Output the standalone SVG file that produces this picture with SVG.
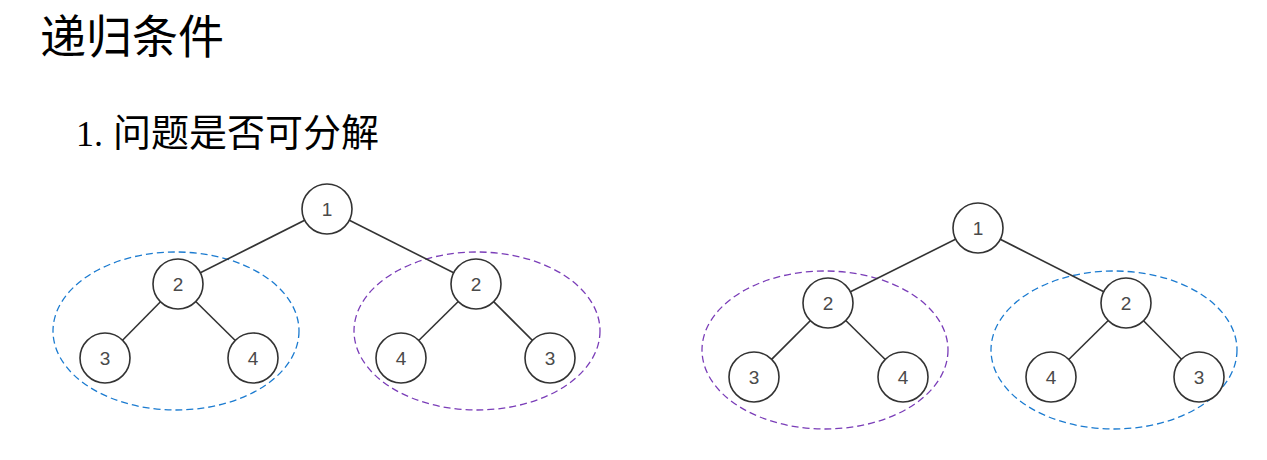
<svg xmlns="http://www.w3.org/2000/svg" width="1267" height="460" viewBox="0 0 1267 460">
<style>
.title{font-family:"Noto Sans CJK SC","Liberation Sans",sans-serif;fill:#000}
.num{font-family:"Liberation Serif",serif;fill:#000}
.node circle{fill:#fff;stroke:#333;stroke-width:1.6}
.node text{font-family:"Liberation Sans",Arial,sans-serif;font-size:19px;fill:#4a4a4a;text-anchor:middle;dominant-baseline:central}
.edges line{stroke:#333;stroke-width:1.6}
.blue{fill:none;stroke:#1b7bd0;stroke-width:1.3;stroke-dasharray:7 4}
.purple{fill:none;stroke:#7a3db8;stroke-width:1.3;stroke-dasharray:7 4}
</style>
<rect width="1267" height="460" fill="#fff"/>
<text class="title" x="40" y="53" font-size="46">递归条件</text>
<text class="num" x="76" y="146" font-size="36">1.</text>
<text class="title" x="113" y="146" font-size="38">问题是否可分解</text>
<g id="groups">
<ellipse class="blue" cx="176" cy="331" rx="123" ry="79"/>
<ellipse class="purple" cx="477" cy="331" rx="123" ry="79"/>
<ellipse class="purple" cx="825" cy="350" rx="123" ry="79"/>
<ellipse class="blue" cx="1114" cy="350" rx="123" ry="79"/>
</g>
<g class="edges" id="connectors">
<line x1="327" y1="209" x2="178" y2="284"/>
<line x1="327" y1="209" x2="476" y2="284"/>
<line x1="178" y1="284" x2="105" y2="358"/>
<line x1="178" y1="284" x2="253" y2="358"/>
<line x1="476" y1="284" x2="401" y2="358"/>
<line x1="476" y1="284" x2="550" y2="358"/>
<line x1="978" y1="228" x2="828" y2="303"/>
<line x1="978" y1="228" x2="1126" y2="303"/>
<line x1="828" y1="303" x2="754" y2="377"/>
<line x1="828" y1="303" x2="903" y2="377"/>
<line x1="1126" y1="303" x2="1051" y2="377"/>
<line x1="1126" y1="303" x2="1199" y2="377"/>
</g>
<g class="node" id="a1"><circle cx="327" cy="209" r="25"/><text x="327" y="209">1</text></g>
<g class="node" id="a2"><circle cx="178" cy="284" r="25"/><text x="178" y="284">2</text></g>
<g class="node" id="a3"><circle cx="105" cy="358" r="25"/><text x="105" y="358">3</text></g>
<g class="node" id="a4"><circle cx="253" cy="358" r="25"/><text x="253" y="358">4</text></g>
<g class="node" id="a5"><circle cx="476" cy="284" r="25"/><text x="476" y="284">2</text></g>
<g class="node" id="a6"><circle cx="401" cy="358" r="25"/><text x="401" y="358">4</text></g>
<g class="node" id="a7"><circle cx="550" cy="358" r="25"/><text x="550" y="358">3</text></g>
<g class="node" id="b1"><circle cx="978" cy="228" r="25"/><text x="978" y="228">1</text></g>
<g class="node" id="b2"><circle cx="828" cy="303" r="25"/><text x="828" y="303">2</text></g>
<g class="node" id="b3"><circle cx="754" cy="377" r="25"/><text x="754" y="377">3</text></g>
<g class="node" id="b4"><circle cx="903" cy="377" r="25"/><text x="903" y="377">4</text></g>
<g class="node" id="b5"><circle cx="1126" cy="303" r="25"/><text x="1126" y="303">2</text></g>
<g class="node" id="b6"><circle cx="1051" cy="377" r="25"/><text x="1051" y="377">4</text></g>
<g class="node" id="b7"><circle cx="1199" cy="377" r="25"/><text x="1199" y="377">3</text></g>
</svg>
